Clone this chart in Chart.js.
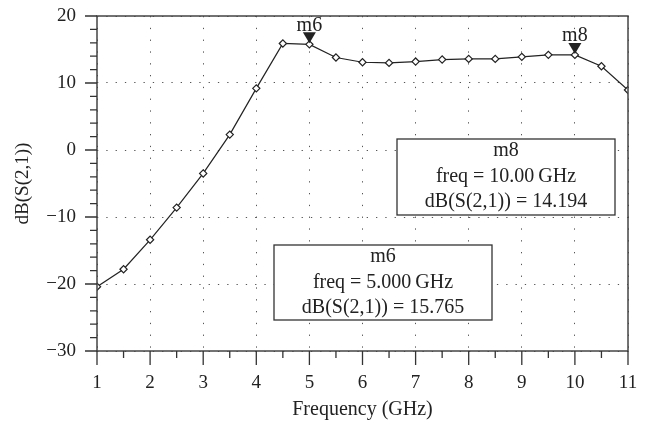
<!DOCTYPE html>
<html lang="en">
<head>
  <meta charset="UTF-8" />
  <title>dB(S(2,1)) vs Frequency</title>
  <script src="https://cdn.jsdelivr.net/npm/chart.js"></script>
  <style>
    body { margin: 0; background: #fff; }
    canvas { display: block; }
  </style>
</head>
<body>
  <canvas id="chart" width="650" height="424"></canvas>
  <script>
    // data
    const freqs = [1, 1.5, 2, 2.5, 3, 3.5, 4, 4.5, 5, 5.5, 6, 6.5, 7, 7.5, 8, 8.5, 9, 9.5, 10, 10.5, 11];
    const s21 = [-20.4, -17.8, -13.4, -8.6, -3.5, 2.3, 9.2, 15.9, 15.765, 13.8, 13.1, 13.0, 13.2, 13.5, 13.6, 13.6, 13.9, 14.2, 14.194, 12.5, 8.96];

    const markerNames = ["m6", "m8"];
    const markerFreqs = [5, 10];
    const markerValues = [15.765, 14.194];
    const markerFreqText = ["5.000", "10.00"];

    const FONT = "'Liberation Serif', 'Times New Roman', serif";
    const INK = "#222";

    // readout boxes (canvas px)
    const boxes = [
      { left: 274, top: 245, right: 492, bottom: 320 },
      { left: 397, top: 139, right: 615, bottom: 215 }
    ];

    const fmtMinus = v => (v < 0 ? "\u2212" + Math.abs(v) : String(v));

    const extras = {
      id: "extras",
      afterDraw(chart) {
        const ctx = chart.ctx;
        const a = chart.chartArea;
        const xs = chart.scales.x, ys = chart.scales.y;
        ctx.save();
        // frame
        ctx.strokeStyle = "#444";
        ctx.lineWidth = 1.5;
        ctx.strokeRect(a.left, a.top, a.right - a.left, a.bottom - a.top);
        // ticks, outward
        ctx.lineWidth = 1.3;
        ctx.strokeStyle = "#333";
        ctx.beginPath();
        ys.ticks.forEach(t => {
          const y = ys.getPixelForValue(t.value);
          const len = t.value % 10 === 0 ? 12 : 7;
          ctx.moveTo(a.left - len, y);
          ctx.lineTo(a.left, y);
        });
        xs.ticks.forEach(t => {
          const x = xs.getPixelForValue(t.value);
          const len = Number.isInteger(t.value) ? 14 : 7;
          ctx.moveTo(x, a.bottom);
          ctx.lineTo(x, a.bottom + len);
        });
        ctx.stroke();

        // markers
        ctx.fillStyle = INK;
        ctx.textAlign = "center";
        ctx.textBaseline = "middle";
        ctx.font = "20px " + FONT;
        markerNames.forEach((name, i) => {
          const x = xs.getPixelForValue(markerFreqs[i]);
          const y = ys.getPixelForValue(markerValues[i]);
          ctx.beginPath();
          ctx.moveTo(x, y - 1);
          ctx.lineTo(x - 6.5, y - 12);
          ctx.lineTo(x + 6.5, y - 12);
          ctx.closePath();
          ctx.fill();
          ctx.fillText(name, x, y - 19);
        });

        // readout boxes
        boxes.forEach((b, i) => {
          ctx.fillStyle = "#fff";
          ctx.fillRect(b.left, b.top, b.right - b.left, b.bottom - b.top);
          ctx.strokeStyle = "#333";
          ctx.lineWidth = 1.3;
          ctx.strokeRect(b.left, b.top, b.right - b.left, b.bottom - b.top);
          ctx.fillStyle = INK;
          const cx = (b.left + b.right) / 2;
          ctx.fillText(markerNames[i], cx, b.top + 12);
          ctx.fillText("freq = " + markerFreqText[i] + "\u2009GHz", cx, b.top + 38);
          ctx.fillText("dB(S(2,1)) = " + markerValues[i].toFixed(3), cx, b.top + 63);
        });
        ctx.restore();
      }
    };

    new Chart(document.getElementById("chart"), {
      type: "line",
      data: {
        datasets: [{
          data: freqs.map((f, i) => ({ x: f, y: s21[i] })),
          borderColor: INK,
          borderWidth: 1.2,
          pointStyle: "rectRot",
          pointRadius: 3.6,
          pointBackgroundColor: "#fff",
          pointBorderColor: INK,
          pointBorderWidth: 1.2,
          tension: 0
        }]
      },
      options: {
        responsive: false,
        animation: false,
        layout: { padding: { top: 16, right: 22, left: 0, bottom: 0 } },
        plugins: { legend: { display: false }, tooltip: { enabled: false } },
        scales: {
          x: {
            type: "linear",
            min: 1, max: 11,
            afterFit: s => { s.height = 73; s.paddingLeft = 0; s.paddingRight = 0; },
            border: { display: false, dash: [1.3, 10.5] },
            grid: {
              drawTicks: false,
              color: c => Number.isInteger(c.tick.value) ? "#555" : "transparent",
              lineWidth: 1
            },
            ticks: {
              stepSize: 0.5,
              autoSkip: false,
              maxRotation: 0,
              padding: 21,
              color: INK,
              font: { family: FONT, size: 19 },
              callback: v => Number.isInteger(v) ? String(v) : ""
            },
            title: {
              display: true,
              text: "Frequency (GHz)",
              color: INK,
              font: { family: FONT, size: 20 },
              padding: { top: 2, bottom: 2 }
            }
          },
          y: {
            min: -30, max: 20,
            afterFit: s => { s.width = 97; s.paddingTop = 0; s.paddingBottom = 0; },
            border: { display: false, dash: [1.3, 8] },
            grid: {
              drawTicks: false,
              color: c => c.tick.value % 10 === 0 ? "#555" : "transparent",
              lineWidth: 1
            },
            ticks: {
              stepSize: 2,
              autoSkip: false,
              padding: 21,
              color: INK,
              font: { family: FONT, size: 19 },
              callback: v => v % 10 === 0 ? fmtMinus(v) : ""
            },
            title: {
              display: true,
              text: "dB(S(2,1))",
              color: INK,
              font: { family: FONT, size: 19 },
              padding: { top: 12, bottom: 12 }
            }
          }
        }
      },
      plugins: [extras]
    });
  </script>
</body>
</html>
